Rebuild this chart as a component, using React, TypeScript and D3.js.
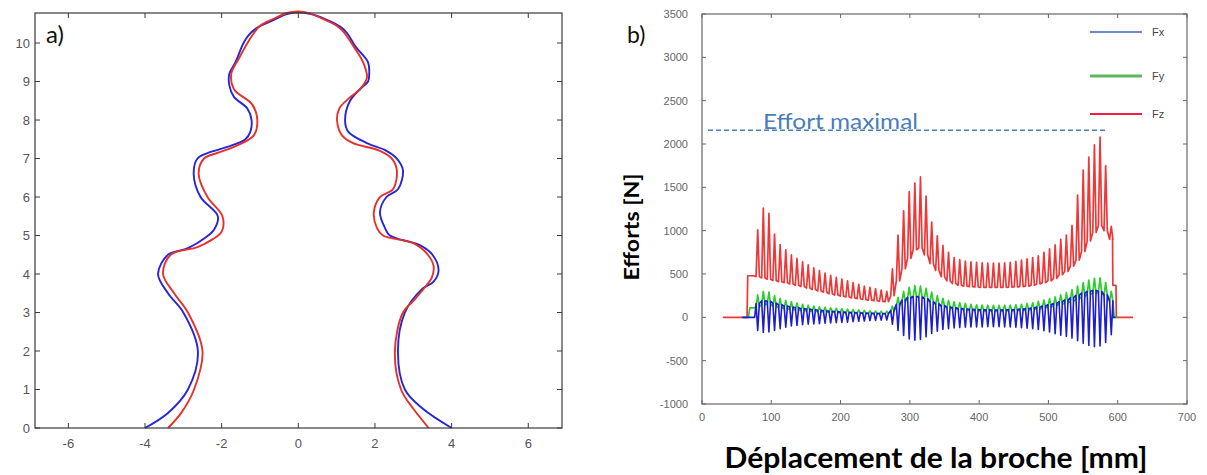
import React from "react";
import * as d3 from "d3";

// ---------- Panel a) : profile curves (x, height) ----------
const profileBlue: [number, number][] = [
  [-4.0, 0], [-3.4, 0.39], [-2.88, 1.0], [-2.62, 2.0], [-3.0, 3.0], [-3.4, 3.5], [-3.66, 4.0],
  [-3.4, 4.5], [-2.88, 4.67], [-2.42, 4.95], [-2.2, 5.15], [-2.1, 5.5], [-2.55, 6.0], [-2.73, 6.6],
  [-2.63, 7.0], [-2.37, 7.14], [-1.85, 7.3], [-1.38, 7.5], [-1.25, 7.7], [-1.22, 8.0], [-1.33, 8.3],
  [-1.68, 8.6], [-1.8, 8.9], [-1.8, 9.2], [-1.64, 9.5], [-1.43, 10.0], [-1.3, 10.2], [-1.07, 10.4],
  [-0.64, 10.6], [-0.3, 10.75], [0, 10.8],
  [0.3, 10.76], [0.7, 10.62], [1.1, 10.42], [1.27, 10.26], [1.5, 9.9], [1.82, 9.5], [1.85, 9.2],
  [1.82, 9.0], [1.61, 8.8], [1.35, 8.5], [1.22, 8.0], [1.3, 7.7], [1.79, 7.4], [2.3, 7.2],
  [2.57, 7.0], [2.73, 6.7], [2.6, 6.2], [2.3, 6.0], [2.13, 5.6], [2.26, 5.2], [2.39, 5.0],
  [3.17, 4.75], [3.5, 4.5], [3.66, 4.1], [3.53, 3.8], [3.22, 3.6], [2.78, 3.0], [2.6, 2.0],
  [2.78, 1.0], [3.25, 0.5], [4.0, 0],
];
const profileRed: [number, number][] = [
  [-3.4, 0], [-3.05, 0.4], [-2.72, 1.0], [-2.5, 2.0], [-2.88, 3.0], [-3.24, 3.5], [-3.53, 4.0],
  [-3.33, 4.5], [-2.63, 4.7], [-2.24, 4.9], [-2.0, 5.1], [-1.98, 5.5], [-2.37, 6.0], [-2.6, 6.6],
  [-2.46, 7.0], [-2.1, 7.15], [-1.68, 7.3], [-1.16, 7.6], [-1.07, 8.0], [-1.2, 8.4], [-1.68, 8.8],
  [-1.75, 9.2], [-1.55, 9.6], [-1.2, 10.2], [-1.0, 10.45], [-0.6, 10.65], [-0.3, 10.78], [0, 10.82],
  [0.3, 10.77], [0.7, 10.6], [1.0, 10.45], [1.17, 10.3], [1.45, 9.9], [1.69, 9.5], [1.79, 9.1],
  [1.61, 8.8], [1.3, 8.55], [1.07, 8.3], [1.01, 8.0], [1.14, 7.6], [1.43, 7.4], [2.13, 7.2],
  [2.44, 7.0], [2.57, 6.7], [2.47, 6.2], [2.13, 6.0], [1.97, 5.6], [2.05, 5.2], [2.21, 5.0],
  [3.0, 4.8], [3.38, 4.5], [3.53, 4.2], [3.48, 3.9], [3.3, 3.65], [3.0, 3.3], [2.73, 3.0],
  [2.52, 2.0], [2.68, 1.0], [3.0, 0.5], [3.4, 0],
];
const aXTicks = [-6, -4, -2, 0, 2, 4, 6];
const aYTicks = [0, 1, 2, 3, 4, 5, 6, 7, 8, 9, 10];

// ---------- Panel b) : forces vs spindle displacement ----------
const toothX = [
  78, 86.1, 94.2, 102.3, 110.4, 118.5, 126.6, 134.7, 142.8, 150.9, 159, 167.1, 175.2, 183.3, 191.4,
  199.5, 207.6, 215.7, 223.8, 231.9, 240, 248.1, 256.2, 264.3, 272.4, 280.5, 288.6, 296.7, 304.8,
  312.9, 321, 329.1, 337.2, 345.3, 353.4, 361.5, 369.6, 377.7, 385.8, 393.9, 402, 410.1, 418.2,
  426.3, 434.4, 442.5, 450.6, 458.7, 466.8, 474.9, 483, 491.1, 499.2, 507.3, 515.4, 523.5, 531.6,
  539.7, 547.8, 555.9, 564, 572.1, 580.2, 588.3,
];
const fzPeak = [
  1010, 1260, 1200, 960, 840, 780, 720, 680, 640, 605, 570, 540, 510, 485, 460, 440, 420, 400, 380, 360,
  345, 330, 315, 300, 560, 950, 1230, 1450, 1550, 1620, 1400, 1100, 940, 830, 750, 690, 665, 650, 640, 635,
  630, 625, 625, 625, 630, 635, 645, 660, 675, 690, 710, 750, 790, 835, 900, 950, 1060, 1410, 1700, 1850,
  1990, 2080, 1750, 1050,
];
const fzTrough = [
  470, 455, 440, 425, 410, 400, 385, 370, 355, 338, 320, 305, 290, 272, 257, 245, 235, 225, 215, 205,
  198, 192, 185, 180, 250, 420, 560, 680, 780, 800, 720, 620, 540, 470, 420, 390, 370, 360, 355, 350,
  345, 345, 345, 345, 345, 348, 350, 355, 360, 370, 385, 400, 420, 450, 490, 530, 590, 660, 760, 880,
  980, 1060, 1000, 900,
];
const fyPeak = [
  260, 300, 290, 250, 220, 195, 180, 165, 150, 140, 130, 122, 115, 110, 105, 100, 95, 90, 85, 80,
  75, 72, 70, 70, 130, 230, 300, 345, 365, 360, 335, 290, 250, 220, 195, 180, 170, 160, 150, 145,
  142, 140, 138, 138, 140, 142, 145, 150, 160, 170, 185, 200, 215, 235, 260, 285, 320, 360, 400, 430,
  450, 455, 400, 300,
];
const fyTrough = [
  120, 150, 150, 130, 110, 100, 90, 85, 80, 75, 70, 65, 62, 60, 58, 55, 52, 50, 48, 46,
  44, 42, 40, 40, 70, 130, 180, 220, 240, 240, 220, 180, 150, 125, 110, 100, 92, 85, 80, 78,
  75, 75, 74, 74, 75, 76, 78, 80, 85, 92, 100, 110, 120, 135, 150, 165, 185, 210, 240, 265,
  280, 285, 250, 180,
];
const fxPeak = [
  160, 190, 185, 165, 145, 130, 120, 110, 100, 95, 88, 82, 76, 70, 66, 62, 58, 55, 52, 50,
  48, 46, 45, 45, 80, 150, 200, 230, 240, 235, 215, 180, 155, 135, 120, 110, 102, 96, 92, 90,
  88, 86, 85, 85, 86, 88, 90, 95, 100, 108, 118, 130, 145, 160, 180, 200, 225, 255, 280, 300,
  310, 300, 260, 190,
];
const fxTrough = [
  -150, -175, -170, -150, -130, -115, -100, -92, -85, -80, -75, -72, -68, -65, -62, -58, -55, -50, -46, -42,
  -38, -35, -32, -30, -80, -150, -210, -250, -265, -255, -225, -185, -160, -140, -130, -122, -118, -115, -112, -110,
  -110, -108, -108, -108, -110, -112, -115, -120, -125, -132, -140, -155, -170, -190, -205, -220, -240, -270, -300, -325,
  -340, -330, -290, -200,
];
const fzLeadIn: [number, number][] = [[30, 0], [65, 0], [66, 480], [74, 480]];
const fzTail: [number, number][] = [[592.5, 900], [593, 370], [597.5, 370], [598, 0], [622, 0]];
const fyLeadIn: [number, number][] = [[60, 0], [67, 0], [69, 110], [75, 110]];
const fyTail: [number, number][] = [[593, 180], [595, 0], [600, 0]];
const fxLeadIn: [number, number][] = [[58, 0], [76, 0]];
const fxTail: [number, number][] = [[593, 0], [597, 0]];
const bXTicks = [0, 100, 200, 300, 400, 500, 600, 700];
const bYTicks = [-1000, -500, 0, 500, 1000, 1500, 2000, 2500, 3000, 3500];
const effortMax = 2160;
const legendItems = [
  { name: "Fx", color: "#3a5fc8", width: 1.3 },
  { name: "Fy", color: "#5cb85c", width: 3 },
  { name: "Fz", color: "#ee2240", width: 2 },
];

function teeth(
  peaks: number[],
  troughs: number[],
  lead: [number, number][],
  tail: [number, number][],
  invert: boolean
): [number, number][] {
  const pts: [number, number][] = [...lead];
  toothX.forEach((x, i) => {
    const a = invert ? peaks[i] : troughs[i];
    const b = invert ? troughs[i] : peaks[i];
    pts.push([x, a], [x + 2.4, b], [x + 4.8, a]);
  });
  return pts.concat(tail);
}

export default function App() {
  const W = 1207;
  const H = 475;
  const font = "'Liberation Sans', Arial, sans-serif";

  // panel a
  const xA = d3.scaleLinear().domain([-6.87, 6.88]).range([35, 562]);
  const yA = d3.scaleLinear().domain([0, 10.78]).range([428, 13]);
  const lineA = d3
    .line<[number, number]>()
    .x((d) => xA(d[0]))
    .y((d) => yA(d[1]))
    .curve(d3.curveCatmullRom.alpha(0.5));

  // panel b
  const xB = d3.scaleLinear().domain([0, 700]).range([702, 1187]);
  const yB = d3.scaleLinear().domain([-1000, 3500]).range([404, 14]);
  const lineB = d3
    .line<[number, number]>()
    .x((d) => xB(d[0]))
    .y((d) => yB(d[1]));

  const fz = teeth(fzPeak, fzTrough, fzLeadIn, fzTail, false);
  const fy = teeth(fyPeak, fyTrough, fyLeadIn, fyTail, false);
  const fx = teeth(fxPeak, fxTrough, fxLeadIn, fxTail, true);

  const [ax0, ax1] = xA.range();
  const [ay0, ay1] = yA.range();
  const [bx0, bx1] = xB.range();
  const [by0, by1] = yB.range();

  return (
    <svg
      width={W}
      height={H}
      style={{ position: "absolute", left: 0, top: 0, background: "#fff" }}
    >
      {/* ================= Panel a ================= */}
      <g>
        <path d={lineA(profileBlue) || ""} fill="none" stroke="#2626d8" strokeWidth={1.9} />
        <path d={lineA(profileRed) || ""} fill="none" stroke="#e8302a" strokeWidth={1.9} />
        <rect x={ax0} y={ay1} width={ax1 - ax0} height={ay0 - ay1} fill="none" stroke="#3a3a3a" strokeWidth={1.2} />
        {aXTicks.map((t) => (
          <g key={"ax" + t}>
            <line x1={xA(t)} x2={xA(t)} y1={ay0} y2={ay0 - 5} stroke="#3a3a3a" />
            <line x1={xA(t)} x2={xA(t)} y1={ay1} y2={ay1 + 5} stroke="#3a3a3a" />
            <text x={xA(t)} y={ay0 + 20} textAnchor="middle" fontFamily={font} fontSize={13} fill="#555">
              {t}
            </text>
          </g>
        ))}
        {aYTicks.map((t) => (
          <g key={"ay" + t}>
            <line x1={ax0} x2={ax0 + 5} y1={yA(t)} y2={yA(t)} stroke="#3a3a3a" />
            <line x1={ax1} x2={ax1 - 5} y1={yA(t)} y2={yA(t)} stroke="#3a3a3a" />
            <text x={ax0 - 5} y={yA(t) + 4.5} textAnchor="end" fontFamily={font} fontSize={13} fill="#555">
              {t}
            </text>
          </g>
        ))}
        <text x={46} y={43} fontFamily="Lato, 'Open Sans', sans-serif" fontSize={24} fill="#111">
          a)
        </text>
      </g>

      {/* ================= Panel b ================= */}
      <g>
        <path d={lineB(fz) || ""} fill="none" stroke="#ee3838" strokeWidth={1.7} strokeLinejoin="round" />
        <path d={lineB(fy) || ""} fill="none" stroke="#2ecc2e" strokeWidth={1.7} strokeLinejoin="round" />
        <path d={lineB(fx) || ""} fill="none" stroke="#1c1cd0" strokeWidth={1.6} strokeLinejoin="round" />

        {/* legend (white box, no border) */}
        <rect x={1088} y={by1 + 2} width={bx1 - 1090} height={110} fill="#fff" />
        {legendItems.map((it, i) => {
          const ly = [32, 76, 114][i];
          return (
            <g key={it.name}>
              <line x1={1090} x2={1142} y1={ly} y2={ly} stroke={it.color} strokeWidth={it.width} />
              <text x={1152} y={ly + 4} fontFamily={font} fontSize={11} fill="#444">
                {it.name}
              </text>
            </g>
          );
        })}

        {/* effort maximal */}
        <line
          x1={bx0 + 6}
          x2={xB(585)}
          y1={yB(effortMax)}
          y2={yB(effortMax)}
          stroke="#4a7ebb"
          strokeWidth={1.5}
          strokeDasharray="5,3"
        />
        <text
          x={763}
          y={yB(effortMax) - 1}
          fontFamily="Lato, 'Open Sans', sans-serif"
          fontSize={21}
          fill="#4a7ebb"
          textLength={155}
          lengthAdjust="spacingAndGlyphs"
        >
          Effort maximal
        </text>

        <rect x={bx0} y={by1} width={bx1 - bx0} height={by0 - by1} fill="none" stroke="#666" strokeWidth={1.2} />
        {bXTicks.map((t) => (
          <g key={"bx" + t}>
            <line x1={xB(t)} x2={xB(t)} y1={by0} y2={by0 - 4} stroke="#666" />
            <line x1={xB(t)} x2={xB(t)} y1={by1} y2={by1 + 4} stroke="#666" />
            <text x={xB(t)} y={by0 + 17} textAnchor="middle" fontFamily={font} fontSize={11} fill="#666">
              {t}
            </text>
          </g>
        ))}
        {bYTicks.map((t) => (
          <g key={"by" + t}>
            <line x1={bx0} x2={bx0 + 4} y1={yB(t)} y2={yB(t)} stroke="#666" />
            <line x1={bx1} x2={bx1 - 4} y1={yB(t)} y2={yB(t)} stroke="#666" />
            <text x={bx0 - 14} y={yB(t) + 4} textAnchor="end" fontFamily={font} fontSize={11} fill="#666">
              {t}
            </text>
          </g>
        ))}
        <text x={627} y={43} fontFamily="Lato, 'Open Sans', sans-serif" fontSize={23} fill="#111">
          b)
        </text>
        <text
          transform={`translate(639, 227) rotate(-90)`}
          textAnchor="middle"
          fontFamily="Lato, 'Open Sans', sans-serif"
          fontWeight="bold"
          fontSize={20}
          fill="#000"
          textLength={107}
          lengthAdjust="spacingAndGlyphs"
        >
          Efforts [N]
        </text>
        <text
          x={936}
          y={468}
          textAnchor="middle"
          fontFamily="Lato, 'Open Sans', sans-serif"
          fontWeight="bold"
          fontSize={28}
          fill="#000"
          textLength={423}
          lengthAdjust="spacingAndGlyphs"
        >
          Déplacement de la broche [mm]
        </text>
      </g>
    </svg>
  );
}
